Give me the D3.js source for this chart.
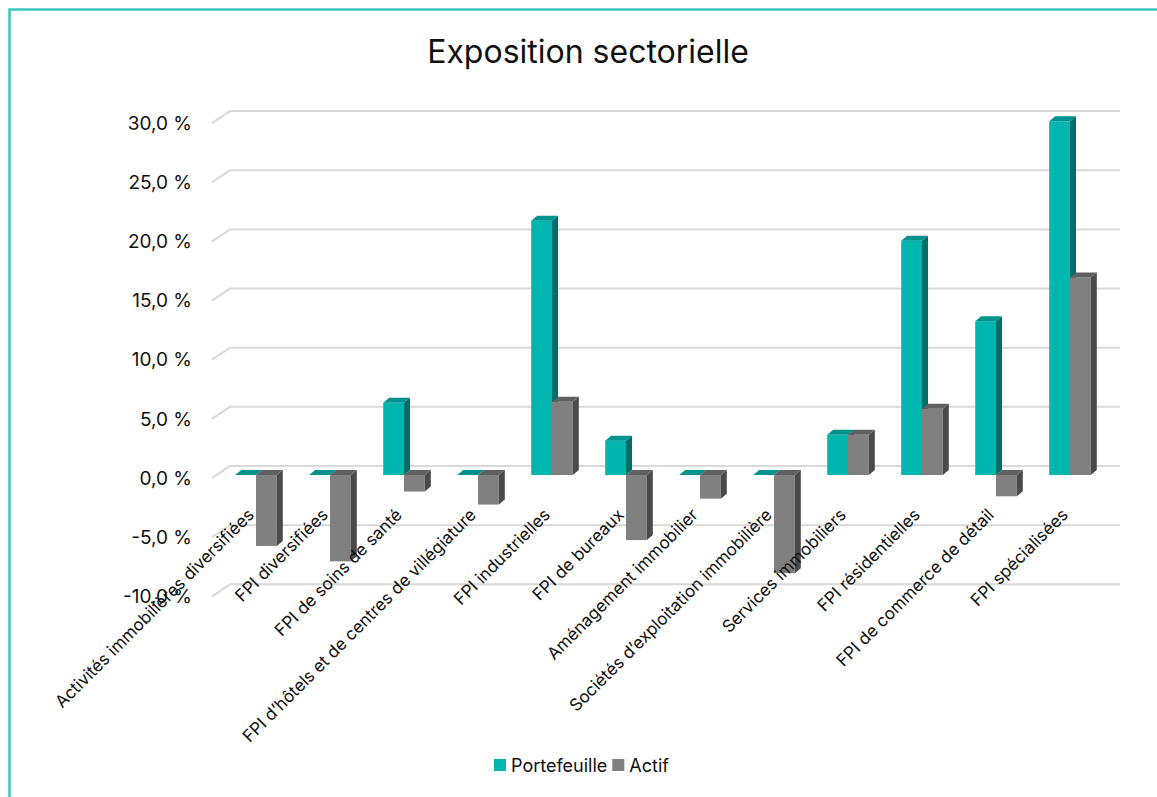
<!DOCTYPE html>
<html>
<head>
<meta charset="utf-8">
<script src="https://cdn.jsdelivr.net/npm/d3@7"></script>
<style>
  html, body { margin: 0; padding: 0; background: #fff; }
  svg { display: block; font-family: Inter, "Noto Sans", sans-serif; }
</style>
</head>
<body>
<svg id="chart" width="1157" height="797"></svg>
<script>
// ---- Data ----
const title = "Exposition sectorielle";
const categories = [
  "Activités immobilières diversifiées",
  "FPI diversifiées",
  "FPI de soins de santé",
  "FPI d’hôtels et de centres de villégiature",
  "FPI industrielles",
  "FPI de bureaux",
  "Aménagement immobilier",
  "Sociétés d’exploitation immobilière",
  "Services immobiliers",
  "FPI résidentielles",
  "FPI de commerce de détail",
  "FPI spécialisées"
];
const seriesNames = ["Portefeuille", "Actif"];
const portefeuille = [0, 0, 6.1, 0, 21.5, 2.9, 0, 0, 3.4, 19.8, 13.0, 29.9];
const actif = [-6.0, -7.3, -1.4, -2.5, 6.2, -5.5, -2.0, -8.3, 3.4, 5.6, -1.8, 16.7];
const tickValues = [-10, -5, 0, 5, 10, 15, 20, 25, 30];
const tickLabels = ["-10,0 %", "-5,0 %", "0,0 %", "5,0 %", "10,0 %", "15,0 %", "20,0 %", "25,0 %", "30,0 %"];

// ---- Styles ----
const colors = {
  "Portefeuille": { front: "#00B7AF", top: "#00938D", side: "#006F6B" },
  "Actif": { front: "#808080", top: "#606060", side: "#4A4A4A" }
};
const depth = { dx: 6, dy: -5 };   // bar 3D depth
const wall = { dx: 18, dy: -12 };  // floor/wall depth

const svg = d3.select("#chart");

// Border (top and left)
svg.append("path")
  .attr("d", "M9.5,797 L9.5,9.5 L1157,9.5")
  .attr("fill", "none").attr("stroke", "#3CC6BE").attr("stroke-width", 2.5);

// Title
svg.append("text")
  .attr("x", 588).attr("y", 63)
  .attr("text-anchor", "middle")
  .attr("font-size", 32).attr("fill", "#111")
  .text(title);

// ---- Scales ----
const frontLeft = 212;
const y = d3.scaleLinear().domain([-10, 30]).range([596.3, 123.1]); // front plane
const x0 = d3.scaleBand().domain(categories).range([219, 1107]).paddingInner(0.4378).paddingOuter(0.2189);
const x1 = d3.scaleBand().domain(seriesNames).range([0, x0.bandwidth()]);

// ---- Gridlines (wall + slanted floor segment) ----
const grid = svg.append("g");
tickValues.forEach(v => {
  const yf = y(v);
  grid.append("path")
    .attr("d", `M${frontLeft},${yf} L${frontLeft + wall.dx},${yf + wall.dy} L1120,${yf + wall.dy}`)
    .attr("fill", "none").attr("stroke", "#D9D9D9").attr("stroke-width", 2);
});

// Y axis labels
svg.append("g").selectAll("text")
  .data(tickValues)
  .join("text")
  .attr("x", 192)
  .attr("y", d => y(d))
  .attr("dy", "0.35em")
  .attr("text-anchor", "end")
  .attr("font-size", 19)
  .attr("fill", "#111")
  .text((d, i) => tickLabels[i]);

// ---- Bars ----
const barOffsetY = -3; // bars sit slightly behind the front plane
const yb = v => y(v) + barOffsetY;
const bars = svg.append("g");
categories.forEach((cat, i) => {
  const vals = { "Portefeuille": portefeuille[i], "Actif": actif[i] };
  seriesNames.forEach(s => {
    const v = vals[s];
    const bx = x0(cat) + x1(s);
    const w = x1.bandwidth();
    const yTop = yb(Math.max(0, v));
    const yBot = yb(Math.min(0, v));
    const c = colors[s];
    const g = bars.append("g");
    if (yBot - yTop > 0) {
      g.append("rect").attr("x", bx).attr("y", yTop).attr("width", w).attr("height", yBot - yTop)
        .attr("fill", c.front);
      g.append("path")
        .attr("d", `M${bx + w},${yTop} L${bx + w + depth.dx},${yTop + depth.dy} L${bx + w + depth.dx},${yBot + depth.dy} L${bx + w},${yBot} Z`)
        .attr("fill", c.side);
    }
    g.append("path")
      .attr("d", `M${bx},${yTop} L${bx + depth.dx},${yTop + depth.dy} L${bx + w + depth.dx},${yTop + depth.dy} L${bx + w},${yTop} Z`)
      .attr("fill", c.top);
  });
});

// ---- Category labels ----
const labelY = 516;
svg.append("g").selectAll("text")
  .data(categories)
  .join("text")
  .attr("transform", d => `translate(${x0(d) + x0.bandwidth() / 2 - 1},${labelY}) rotate(-45)`)
  .attr("text-anchor", "end")
  .attr("font-size", 17)
  .attr("fill", "#111")
  .text(d => d);

// ---- Legend ----
const legend = svg.append("g").attr("font-size", 18);
let lx = 494;
seriesNames.forEach(s => {
  legend.append("rect").attr("x", lx).attr("y", 759).attr("width", 12).attr("height", 12)
    .attr("fill", colors[s].front);
  const t = legend.append("text").attr("x", lx + 17).attr("y", 772).attr("fill", "#111").text(s);
  lx += 17 + t.node().getComputedTextLength() + 5;
});
</script>
</body>
</html>
